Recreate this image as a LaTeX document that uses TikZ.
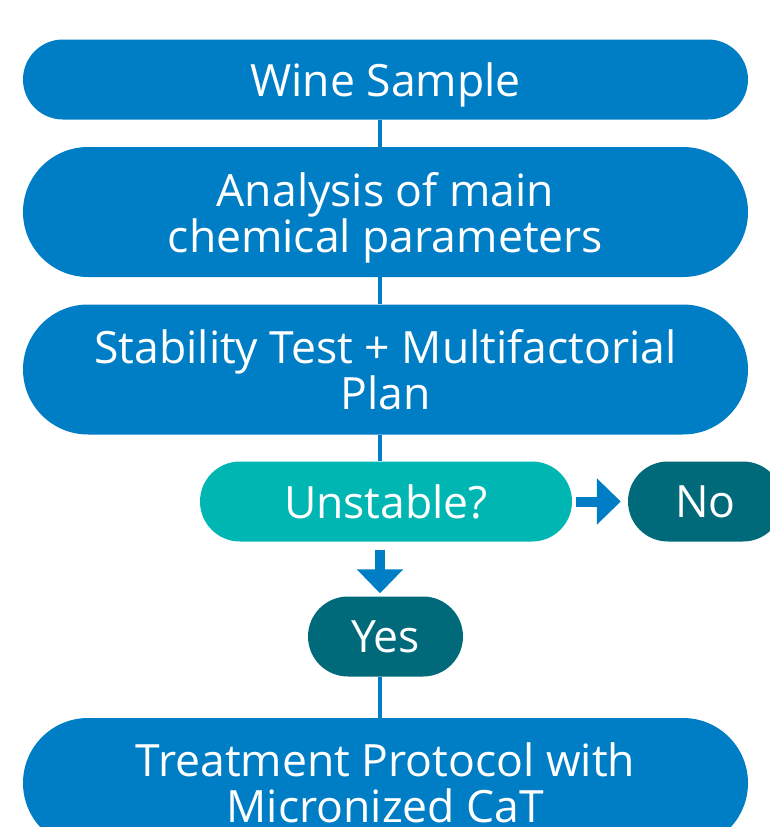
\documentclass[tikz,border=0pt]{standalone}
\usepackage{fontspec}
\setmainfont{Open Sans}
\usetikzlibrary{arrows.meta}

\definecolor{stageblue}{RGB}{0,126,197}
\definecolor{askteal}{RGB}{0,182,179}
\definecolor{answerteal}{RGB}{0,106,122}

\begin{document}
\begin{tikzpicture}[x=1pt, y=-1pt,
  every node/.style={text=white, font=\fontsize{44.5}{46}\selectfont, align=center, inner sep=0pt, text depth=0pt},
  stage/.style={fill=stageblue, minimum width=725pt, minimum height=80pt, rounded corners=40pt},
  bigstage/.style={fill=stageblue, minimum width=725pt, minimum height=130pt, rounded corners=65pt},
  answer/.style={fill=answerteal, minimum width=155pt, minimum height=80pt, rounded corners=40pt},
  link/.style={stageblue, line width=4pt},
  flow/.style={stageblue, line width=10pt, -{Triangle[width=45pt, length=24pt]}}]
\clip (0,0) rectangle (770,827);
\useasboundingbox (0,0) rectangle (770,827);
\coordinate (spine) at (380,0);
% the chain of stages
\node[stage] (wine) at (385.5,79.5) {Wine Sample};
\node[bigstage] (analysis) at (385.5,212) {Analysis of main\\chemical parameters};
\node[bigstage] (stability) at (385.5,369.5) {Stability Test + Multifactorial\\Plan};
\node[fill=askteal, minimum width=372pt, minimum height=80pt, rounded corners=40pt] (unstable) at (386,501.5) {Unstable?};
\node[answer] (no) at (705.5,501.5) {No};
\node[answer] (yes) at (385.5,636.5) {Yes};
\node[bigstage] (treatment) at (385.5,783) {Treatment Protocol with\\Micronized CaT};
% thin joints
\draw[link] (wine.south -| spine) -- (analysis.north -| spine);
\draw[link] (analysis.south -| spine) -- (stability.north -| spine);
\draw[link] (stability.south -| spine) -- (unstable.north -| spine);
\draw[link] (yes.south -| spine) -- (treatment.north -| spine);
% block arrows
\draw[flow, shorten <=4pt, shorten >=7pt] (unstable.east) -- (no.west);
\draw[flow, shorten <=8pt, shorten >=3pt] (unstable.south -| spine) -- (yes.north -| spine);
\end{tikzpicture}
\end{document}
